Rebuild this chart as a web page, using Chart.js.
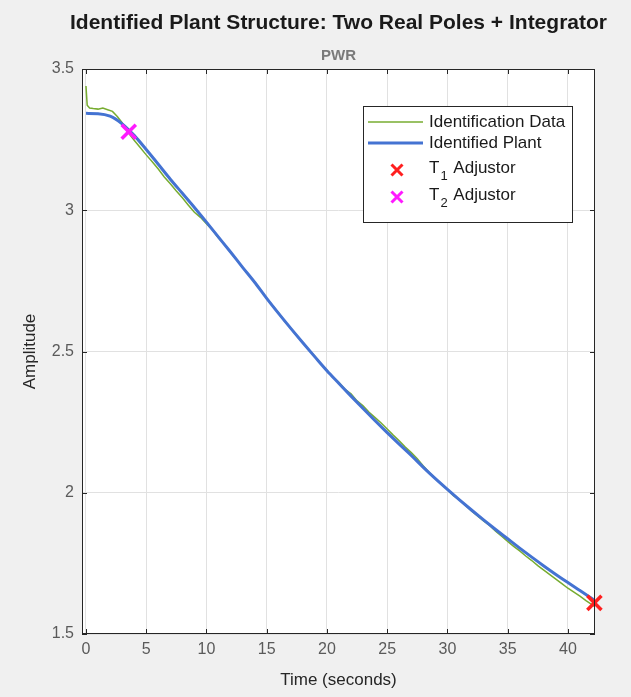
<!DOCTYPE html>
<html>
<head>
<meta charset="utf-8">
<script src="https://cdn.jsdelivr.net/npm/chart.js@4.4.0/dist/chart.umd.min.js"></script>
<style>
  html, body { margin: 0; padding: 0; background: #f0f0f0; }
  #wrap { width: 631px; height: 697px; }
</style>
</head>
<body>
<div id="wrap"><canvas id="plant-chart" width="631" height="697"></canvas></div>
<script>
// texts
const chartTitle = 'Identified Plant Structure: Two Real Poles + Integrator';
const chartSubtitle = 'PWR';
const xAxisTitle = 'Time (seconds)';
const yAxisTitle = 'Amplitude';

// tick labels
const xTicks = [0, 5, 10, 15, 20, 25, 30, 35, 40];
const yTicks = [1.5, 2, 2.5, 3, 3.5];

// identification data (measured response)
const dataTime = [0, 0.1, 0.3, 0.6, 1.0, 1.4, 1.8, 2.2, 2.6, 3.0, 3.5, 4.0, 4.5, 5.0, 5.5, 6.0, 6.5, 7.0, 7.5, 8.0,
  8.5, 9.0, 9.5, 10.0, 10.5, 11.0, 11.5, 12.0, 12.5, 13.0, 13.5, 14.0, 14.5, 15.0, 15.5, 16.0, 16.5, 17.0, 17.5, 18.0,
  18.5, 19.0, 19.5, 20.0, 20.5, 21.0, 21.5, 22.0, 22.5, 23.0, 23.5, 24.0, 24.5, 25.0, 25.5, 26.0, 26.5, 27.0, 27.5, 28.0,
  28.5, 29.0, 29.5, 30.0, 30.5, 31.0, 31.5, 32.0, 32.5, 33.0, 33.5, 34.0, 34.5, 35.0, 35.5, 36.0, 36.5, 37.0, 37.5, 38.0,
  38.5, 39.0, 39.5, 40.0, 40.5, 41.0, 41.5, 42.0, 42.2];
const dataAmp = [3.440, 3.372, 3.362, 3.360, 3.358, 3.362, 3.356, 3.350, 3.332, 3.310, 3.275, 3.248, 3.222, 3.196, 3.172, 3.146, 3.118, 3.094, 3.068, 3.044,
  3.018, 2.993, 2.975, 2.952, 2.930, 2.902, 2.880, 2.850, 2.826, 2.797, 2.772, 2.744, 2.718, 2.688, 2.662, 2.636, 2.606, 2.582, 2.555, 2.532,
  2.505, 2.483, 2.456, 2.434, 2.410, 2.390, 2.366, 2.350, 2.325, 2.308, 2.285, 2.266, 2.247, 2.226, 2.204, 2.184, 2.162, 2.142, 2.120, 2.095,
  2.072, 2.050, 2.030, 2.012, 1.990, 1.975, 1.955, 1.936, 1.918, 1.900, 1.884, 1.864, 1.846, 1.828, 1.810, 1.794, 1.776, 1.760, 1.742, 1.726,
  1.710, 1.694, 1.678, 1.662, 1.648, 1.634, 1.618, 1.604, 1.598];

// identified plant (model response)
const plantTime = [0, 1, 2, 3, 4, 5, 6, 7, 8, 9, 10, 11, 12, 13, 14, 15, 16, 17, 18, 19, 20,
  21, 22, 23, 24, 25, 26, 27, 28, 29, 30, 31, 32, 33, 34, 35, 36, 37, 38, 39, 40, 41, 42.2];
const plantAmp = [3.343, 3.342, 3.333, 3.306, 3.265, 3.215, 3.163, 3.110, 3.060, 3.010, 2.958, 2.905, 2.852, 2.798, 2.745, 2.688, 2.634, 2.582, 2.531, 2.481, 2.432,
  2.387, 2.342, 2.298, 2.255, 2.213, 2.172, 2.132, 2.090, 2.050, 2.012, 1.975, 1.939, 1.904, 1.870, 1.837, 1.804, 1.772, 1.741, 1.711, 1.682, 1.654, 1.620];

// adjustor markers
const t1Time = [42.2];
const t1Amp = [1.61];
const t2Time = [3.55];
const t2Amp = [3.278];

const toPoints = (xs, ys) => xs.map((x, i) => ({ x, y: ys[i] }));

const FONT = '"Liberation Sans", Arial, sans-serif';
const AXIS_COLOR = '#262626';

function drawX(ctx, x, y, r, color) {
  ctx.save();
  ctx.strokeStyle = color;
  ctx.lineWidth = 3;
  ctx.beginPath();
  ctx.moveTo(x - r, y - r); ctx.lineTo(x + r, y + r);
  ctx.moveTo(x + r, y - r); ctx.lineTo(x - r, y + r);
  ctx.stroke();
  ctx.restore();
}

function drawSubLabel(ctx, x, y, main, sub, rest) {
  ctx.font = '17px ' + FONT;
  ctx.fillText(main, x, y);
  let w = ctx.measureText(main).width;
  ctx.font = '13px ' + FONT;
  ctx.fillText(sub, x + w + 1, y + 8);
  w += ctx.measureText(sub).width + 2;
  ctx.font = '17px ' + FONT;
  ctx.fillText(rest, x + w, y);
}

// white axes background, as in MATLAB figures
const axesBackground = {
  id: 'axesBackground',
  beforeDraw(chart) {
    const { ctx, chartArea: a } = chart;
    ctx.save();
    ctx.fillStyle = '#ffffff';
    ctx.fillRect(a.left, a.top, a.right - a.left, a.bottom - a.top);
    ctx.restore();
  }
};

const framePlugin = {
  id: 'matlabFrame',
  afterDraw(chart) {
    const { ctx, chartArea: a, scales } = chart;
    ctx.save();

    // titles
    ctx.fillStyle = '#1a1a1a';
    ctx.textAlign = 'center';
    ctx.textBaseline = 'middle';
    ctx.font = 'bold 21px ' + FONT;
    const cx = (a.left + a.right) / 2;
    ctx.fillText(chartTitle, cx, 23);
    ctx.fillStyle = '#7a7a7a';
    ctx.font = 'bold 15px ' + FONT;
    ctx.fillText(chartSubtitle, cx, 56);

    // axis titles
    ctx.fillStyle = AXIS_COLOR;
    ctx.font = '17px ' + FONT;
    ctx.fillText(xAxisTitle, cx, 680);
    ctx.save();
    ctx.translate(30, (a.top + a.bottom) / 2);
    ctx.rotate(-Math.PI / 2);
    ctx.fillText(yAxisTitle, 0, 0);
    ctx.restore();

    // box and inner ticks
    ctx.strokeStyle = AXIS_COLOR;
    ctx.lineWidth = 1;
    ctx.strokeRect(a.left + 0.5, a.top + 0.5, a.right - a.left - 1, a.bottom - a.top - 1);
    ctx.beginPath();
    xTicks.forEach(v => {
      const px = Math.round(scales.x.getPixelForValue(v)) + 0.5;
      ctx.moveTo(px, a.bottom); ctx.lineTo(px, a.bottom - 5);
      ctx.moveTo(px, a.top); ctx.lineTo(px, a.top + 5);
    });
    yTicks.forEach(v => {
      const py = Math.round(scales.y.getPixelForValue(v)) + 0.5;
      ctx.moveTo(a.left, py); ctx.lineTo(a.left + 5, py);
      ctx.moveTo(a.right, py); ctx.lineTo(a.right - 5, py);
    });
    ctx.stroke();

    // legend
    const lx = 363, ly = 106, lw = 209, lh = 116;
    ctx.fillStyle = '#ffffff';
    ctx.fillRect(lx, ly, lw, lh);
    ctx.strokeStyle = AXIS_COLOR;
    ctx.strokeRect(lx + 0.5, ly + 0.5, lw, lh);
    const ds = chart.data.datasets;
    ctx.lineWidth = 1.5;
    ctx.strokeStyle = ds[3].borderColor;
    ctx.beginPath(); ctx.moveTo(368, 122); ctx.lineTo(423, 122); ctx.stroke();
    ctx.lineWidth = 3;
    ctx.strokeStyle = ds[2].borderColor;
    ctx.beginPath(); ctx.moveTo(368, 143); ctx.lineTo(423, 143); ctx.stroke();
    drawX(ctx, 397, 170, 5.5, ds[0].borderColor);
    drawX(ctx, 397, 197, 5.5, ds[1].borderColor);

    ctx.fillStyle = '#1a1a1a';
    ctx.textAlign = 'left';
    ctx.textBaseline = 'middle';
    ctx.font = '17px ' + FONT;
    ctx.fillText(ds[3].label, 429, 122);
    ctx.fillText(ds[2].label, 429, 143);
    drawSubLabel(ctx, 429, 168, 'T', '1', ' Adjustor');
    drawSubLabel(ctx, 429, 195, 'T', '2', ' Adjustor');

    ctx.restore();
  }
};

new Chart(document.getElementById('plant-chart'), {
  type: 'line',
  data: {
    datasets: [
      {
        label: 'T1 Adjustor',
        data: toPoints(t1Time, t1Amp),
        showLine: false,
        pointStyle: 'crossRot',
        pointRadius: 10,
        borderColor: '#ff1f1f',
        borderWidth: 3.5,
        clip: false,
        order: 0
      },
      {
        label: 'T2 Adjustor',
        data: toPoints(t2Time, t2Amp),
        showLine: false,
        pointStyle: 'crossRot',
        pointRadius: 10,
        borderColor: '#ff1aff',
        borderWidth: 3.5,
        clip: false,
        order: 1
      },
      {
        label: 'Identified Plant',
        data: toPoints(plantTime, plantAmp),
        borderColor: '#4473d2',
        borderWidth: 3,
        pointRadius: 0,
        tension: 0.4,
        cubicInterpolationMode: 'monotone',
        order: 2
      },
      {
        label: 'Identification Data',
        data: toPoints(dataTime, dataAmp),
        borderColor: '#77ac30',
        borderWidth: 1.5,
        pointRadius: 0,
        tension: 0,
        order: 3
      }
    ]
  },
  options: {
    responsive: false,
    animation: false,
    layout: { padding: { top: 69, right: 36, left: 0, bottom: 0 } },
    plugins: {
      legend: { display: false },
      tooltip: { enabled: false }
    },
    scales: {
      x: {
        type: 'linear',
        min: -0.33,
        max: 42.25,
        afterBuildTicks: scale => { scale.ticks = xTicks.map(v => ({ value: v })); },
        afterFit: scale => { scale.height = 63; },
        grid: { color: '#e1e1e1', drawTicks: false },
        border: { display: false },
        ticks: {
          padding: 6,
          color: '#5a5a5a',
          font: { family: FONT, size: 16 },
          maxRotation: 0,
          callback: v => String(v)
        }
      },
      y: {
        min: 1.5,
        max: 3.5,
        afterBuildTicks: scale => { scale.ticks = yTicks.map(v => ({ value: v })); },
        afterFit: scale => { scale.width = 82; },
        grid: { color: '#e1e1e1', drawTicks: false },
        border: { display: false },
        ticks: {
          padding: 8,
          color: '#5a5a5a',
          font: { family: FONT, size: 16 },
          callback: v => String(v)
        }
      }
    }
  },
  plugins: [axesBackground, framePlugin]
});
</script>
</body>
</html>
